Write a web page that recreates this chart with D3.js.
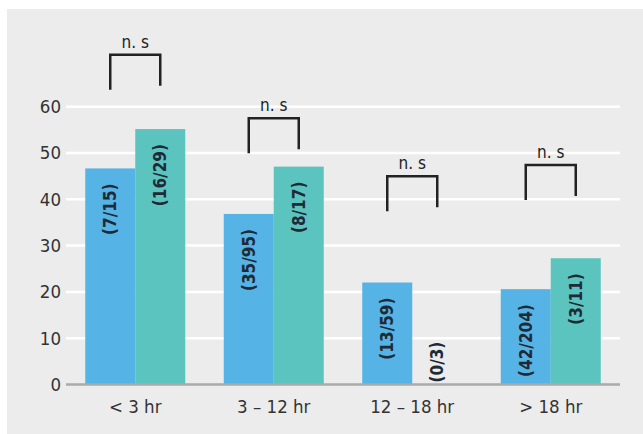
<!DOCTYPE html>
<html>
<head>
<meta charset="utf-8">
<script src="https://cdn.jsdelivr.net/npm/d3@7"></script>
<style>
  html, body { margin: 0; padding: 0; background: #ffffff; }
  svg { display: block; }
  text { font-family: "DejaVu Sans Condensed", "DejaVu Sans", sans-serif; font-stretch: condensed; }
</style>
</head>
<body>
<svg id="chart" width="643" height="434"></svg>
<script>
// Time-to-treatment groups
const categories = ["< 3 hr", "3 – 12 hr", "12 – 18 hr", "> 18 hr"];
const seriesNames = ["groupA", "groupB"];
// Percentages with the underlying counts shown in each bar
const valuesA = [46.67, 36.84, 22.03, 20.59];
const valuesB = [55.17, 47.06, 0, 27.27];
const labelsA = ["(7/15)", "(35/95)", "(13/59)", "(42/204)"];
const labelsB = ["(16/29)", "(8/17)", "(0/3)", "(3/11)"];
// Height (in axis units) of each significance bracket
const bracketLevels = [71.2, 57.5, 45.0, 47.4];
const bracketText = ["n. s", "n. s", "n. s", "n. s"];
const yTicks = [0, 10, 20, 30, 40, 50, 60];

const colors = { groupA: "#56b3e5", groupB: "#5cc4bf" };

const svg = d3.select("#chart");

// Grey panel
svg.append("rect")
  .attr("x", 7).attr("y", 9)
  .attr("width", 636).attr("height", 425)
  .attr("fill", "#ebeceb");

const x = d3.scaleBand()
  .domain(categories)
  .range([66, 620])
  .paddingInner(0.278)
  .paddingOuter(0.139);

const xSub = d3.scaleBand()
  .domain(seriesNames)
  .range([0, x.bandwidth()]);

const y = d3.scaleLinear()
  .domain([0, 60])
  .range([384.5, 106.7]);

// Horizontal gridlines
svg.append("g")
  .selectAll("line")
  .data(yTicks.filter(d => d > 0))
  .join("line")
  .attr("x1", 66).attr("x2", 620)
  .attr("y1", d => y(d)).attr("y2", d => y(d))
  .attr("stroke", "#ffffff")
  .attr("stroke-width", 2.5);

// Y axis labels
const yAxis = d3.axisLeft(y).tickValues(yTicks).tickSize(0).tickPadding(0);
const yg = svg.append("g")
  .attr("transform", "translate(61,0)")
  .call(yAxis);
yg.select(".domain").remove();
yg.selectAll("text")
  .attr("font-size", 18.5)
  .attr("fill", "#333333")
  .attr("font-family", "'DejaVu Sans Condensed', 'DejaVu Sans', sans-serif");

const rows = categories.map((c, i) => ({
  cat: c,
  bars: [
    { key: "groupA", value: valuesA[i], label: labelsA[i] },
    { key: "groupB", value: valuesB[i], label: labelsB[i] }
  ],
  level: bracketLevels[i],
  note: bracketText[i]
}));

const groups = svg.append("g")
  .selectAll("g")
  .data(rows)
  .join("g")
  .attr("transform", d => `translate(${x(d.cat)},0)`);

groups.selectAll("rect")
  .data(d => d.bars)
  .join("rect")
  .attr("x", d => xSub(d.key))
  .attr("width", xSub.bandwidth())
  .attr("y", d => y(d.value))
  .attr("height", d => y(0) - y(d.value))
  .attr("fill", d => colors[d.key]);

// Count labels, written vertically inside the bars
groups.selectAll("text.count")
  .data(d => d.bars)
  .join("text")
  .attr("class", "count")
  .attr("transform", d => {
    const cx = xSub(d.key) + xSub.bandwidth() / 2;
    const ty = d.value > 0 ? y(d.value) + 15 : y(0) - 2;
    return `translate(${cx},${ty}) rotate(-90)`;
  })
  .attr("text-anchor", d => d.value > 0 ? "end" : "start")
  .attr("dy", "0.36em")
  .attr("font-size", 17)
  .attr("font-weight", "bold")
  .attr("fill", "#1e2a36")
  .text(d => d.label);

// Baseline
svg.append("line")
  .attr("x1", 66).attr("x2", 620)
  .attr("y1", y(0)).attr("y2", y(0))
  .attr("stroke", "#aaaaaa")
  .attr("stroke-width", 2.5);

// Significance brackets
const leftLeg = 35, rightLeg = 31;
groups.append("path")
  .attr("d", d => {
    const xl = xSub("groupA") + xSub.bandwidth() / 2;
    const xr = xSub("groupB") + xSub.bandwidth() / 2;
    const t = y(d.level);
    return `M${xl},${t + leftLeg}V${t}H${xr}V${t + rightLeg}`;
  })
  .attr("fill", "none")
  .attr("stroke", "#222222")
  .attr("stroke-width", 2.5);

groups.append("text")
  .attr("x", x.bandwidth() / 2)
  .attr("y", d => y(d.level) - 7)
  .attr("text-anchor", "middle")
  .attr("font-size", 17)
  .attr("fill", "#222222")
  .text(d => d.note);

// Category labels
svg.append("g")
  .selectAll("text")
  .data(categories)
  .join("text")
  .attr("x", d => x(d) + x.bandwidth() / 2)
  .attr("y", 413)
  .attr("text-anchor", "middle")
  .attr("font-size", 18.5)
  .attr("fill", "#333333")
  .text(d => d);
</script>
</body>
</html>
